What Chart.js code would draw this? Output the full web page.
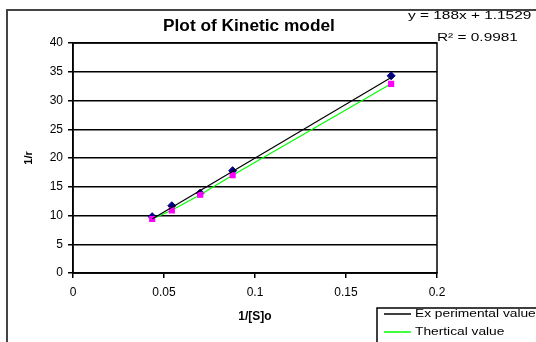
<!DOCTYPE html>
<html>
<head>
<meta charset="utf-8">
<script src="https://cdn.jsdelivr.net/npm/chart.js@4/dist/chart.umd.min.js"></script>
<style>
  html, body { margin: 0; padding: 0; background: #fff; }
  #wrap { width: 536px; height: 342px; position: relative; }
</style>
</head>
<body>
<div id="wrap"><canvas id="chart" width="536" height="342"></canvas></div>
<script>
// values
const invS = [0.0435, 0.0543, 0.0699, 0.0877, 0.1748];
const experimental = [9.8, 11.7, 13.9, 17.8, 34.3];
const theoretical = [9.4, 10.9, 13.6, 17.0, 32.9];
// trendline endpoints of the experimental series
const trendX = [0.0435, 0.1748];
const trendY = [9.4, 34.0];
const xTicks = [0, 0.05, 0.1, 0.15, 0.2];
const yTicks = [0, 5, 10, 15, 20, 25, 30, 35, 40];
const legendLabels = ["Ex perimental value", "Thertical value"];
const legendColors = ["#000000", "#00ff00"];

const pts = (xs, ys) => xs.map((x, i) => ({ x, y: ys[i] }));
const FONT = "'Liberation Sans', Arial, sans-serif";

// text a bit wider than tall, like the old Excel export
function wideText(ctx, txt, x, y, sx) {
  ctx.save();
  ctx.translate(x, y);
  ctx.scale(sx, 1);
  ctx.fillText(txt, 0, 0);
  ctx.restore();
}

const decor = {
  id: "decor",
  afterDraw(chart) {
    const ctx = chart.ctx;
    const a = chart.chartArea;
    ctx.save();
    // outer frame
    ctx.strokeStyle = "#444";
    ctx.lineWidth = 2;
    ctx.strokeRect(7, 10, 600, 400);
    // plot area border
    ctx.strokeStyle = "#000";
    ctx.lineWidth = 1.5;
    ctx.strokeRect(a.left, a.top, a.right - a.left, a.bottom - a.top);
    // title
    ctx.fillStyle = "#000";
    ctx.font = "bold 16px " + FONT;
    ctx.textAlign = "left";
    ctx.textBaseline = "middle";
    wideText(ctx, "Plot of Kinetic model", 163, 27, 1.08);
    // trendline equation
    ctx.font = "11px " + FONT;
    wideText(ctx, "y = 188x + 1.1529", 408, 16, 1.4);
    wideText(ctx, "R\u00b2 = 0.9981", 437, 38, 1.4);
    // legend
    ctx.fillStyle = "#fff";
    ctx.fillRect(377, 308, 200, 60);
    ctx.strokeStyle = "#000";
    ctx.lineWidth = 1.5;
    ctx.strokeRect(377, 308, 200, 60);
    ctx.font = "11px " + FONT;
    legendLabels.forEach((lbl, i) => {
      const y = 314 + i * 18;
      ctx.strokeStyle = legendColors[i];
      ctx.lineWidth = 1.5;
      ctx.beginPath();
      ctx.moveTo(384, y);
      ctx.lineTo(411, y);
      ctx.stroke();
      ctx.fillStyle = "#000";
      wideText(ctx, lbl, 415, y, 1.25);
    });
    ctx.restore();
  }
};

new Chart(document.getElementById("chart"), {
  type: "scatter",
  data: {
    datasets: [
      {
        label: "Experimental trend",
        data: pts(trendX, trendY),
        showLine: true,
        borderColor: "#000",
        borderWidth: 1.2,
        pointRadius: 0
      },
      {
        label: "Therotical",
        data: pts(invS, theoretical),
        showLine: true,
        borderColor: "#00ff00",
        borderWidth: 1.2,
        pointStyle: "rect",
        pointRadius: 3.5,
        backgroundColor: "#ff00ff",
        pointBorderColor: "#ff00ff"
      },
      {
        label: "Experimental",
        data: pts(invS, experimental),
        showLine: false,
        pointStyle: "rectRot",
        pointRadius: 4,
        backgroundColor: "#000080",
        pointBorderColor: "#000080"
      }
    ]
  },
  options: {
    responsive: false,
    animation: false,
    layout: { padding: { left: 22, right: 99, top: 43, bottom: 14 } },
    plugins: {
      legend: { display: false },
      tooltip: { enabled: false },
      title: { display: false }
    },
    scales: {
      x: {
        type: "linear",
        min: 0,
        max: 0.2,
        afterBuildTicks: s => { s.ticks = xTicks.map(v => ({ value: v })); },
        afterFit: s => { s.height = 55; },
        grid: { drawOnChartArea: false, color: "#000", tickLength: 5, lineWidth: 1.5 },
        border: { color: "#000", width: 1.5 },
        ticks: { color: "#000", font: { size: 12, family: FONT }, padding: 7, callback: v => String(v) },
        title: { display: true, text: "1/[S]o", color: "#000", font: { size: 12, weight: "bold", family: FONT }, padding: { top: 8 } }
      },
      y: {
        type: "linear",
        min: 0,
        max: 40,
        afterBuildTicks: s => { s.ticks = yTicks.map(v => ({ value: v })); },
        afterFit: s => { s.width = 51; },
        grid: { color: "#000", tickLength: 5, lineWidth: 1.5 },
        border: { color: "#000", width: 1.5 },
        ticks: { color: "#000", font: { size: 12, family: FONT }, padding: 5 },
        title: { display: true, text: "1/r", color: "#000", font: { size: 11, weight: "bold", family: FONT }, padding: 0 }
      }
    }
  },
  plugins: [decor]
});
</script>
</body>
</html>
